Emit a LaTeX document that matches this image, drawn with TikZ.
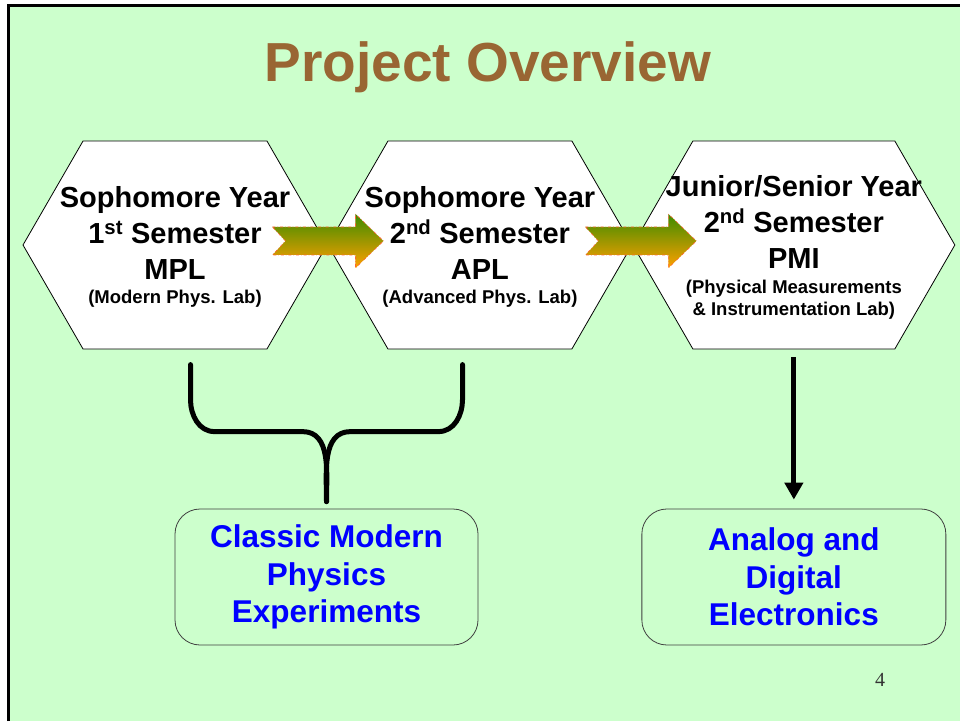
\documentclass[tikz,border=0pt]{standalone}
\usepackage{fontspec}
\setmainfont{Liberation Sans}
\newfontfamily\pagefont{Liberation Serif}
\usetikzlibrary{positioning,calc,shapes.symbols,arrows.meta}
\definecolor{slidegreen}{HTML}{CCFFCC}
\definecolor{titlebrown}{HTML}{996633}
\definecolor{arrowgreen}{RGB}{60,140,0}
\definecolor{arroworange}{RGB}{255,160,0}
\definecolor{arrowedge}{RGB}{255,100,50}
\definecolor{boxedge}{HTML}{404040}
\newcommand{\smalltxt}{\fontsize{18.5}{22}\selectfont}
\tikzset{>=latex,
  hexnode/.style={draw, line width=0.8pt, fill=white, shape=signal, signal to=east and west,
    signal pointer angle=120, minimum width=304pt, minimum height=208pt, inner sep=0pt},
  hextext/.style={align=center, font=\bfseries\fontsize{29}{36}\selectfont},
  goalbox/.style={draw=boxedge, line width=0.8pt, rounded corners=25pt, minimum width=303pt,
    minimum height=136pt, align=center, text=blue, font=\bfseries\fontsize{31.5}{37.5}\selectfont},
  fatarrow/.pic={
    \path[draw=arrowedge, line width=0.6pt, dash dot, top color=arrowgreen, bottom color=arroworange]
      (-55,14) -- (28,14) -- (28,27) -- (56,0) -- (28,-27) -- (28,-14) -- (-55,-14) -- (-42,0) -- cycle;
  }
}

\begin{document}
\begin{tikzpicture}[x=1pt, y=1pt]
  \useasboundingbox (0,0) rectangle (960,721);
  % slide background and frame
  \fill[white] (0,0) rectangle (960,721);
  \fill[slidegreen] (8,0) rectangle (960,715);
  \draw[line width=3pt] (8,0) -- (8,715) -- (960,715);
  \node[text=titlebrown, font=\bfseries\fontsize{55}{60}\selectfont, anchor=base] (title) at (488,639) {Project Overview};
  % the three labs
  \node[hexnode] (mplhex) at (175,476) {};
  \node[hexnode, right=0pt of mplhex] (aplhex) {};
  \node[hexnode, minimum width=322pt, right=0pt of aplhex] (pmihex) {};
  \node[hextext] (mpltext) at ($(mplhex.center)+(0,-2)$) {Sophomore Year\\1\textsuperscript{st} Semester\\MPL\\[-12pt]{\smalltxt (Modern Phys. Lab)}};
  \node[hextext] (apltext) at ($(aplhex.center)+(0,-2)$) {Sophomore Year\\2\textsuperscript{nd} Semester\\APL\\[-12pt]{\smalltxt (Advanced Phys. Lab)}};
  \node[hextext] (pmitext) at ($(pmihex.center)+(0,-2)$) {Junior/Senior Year\\2\textsuperscript{nd} Semester\\PMI\\[-11pt]{\smalltxt (Physical Measurements}\\[-14pt]{\smalltxt \& Instrumentation Lab)}};
  \pic at ($(mplhex.east)+(0,4)$) {fatarrow};
  \pic at ($(aplhex.east)+(8,4)$) {fatarrow};
  % outcomes
  \node[goalbox] (cmpbox) at (326.5,144) {Classic Modern\\Physics\\Experiments};
  \node[goalbox, minimum width=304pt] (aebox) at (pmihex.south |- cmpbox.center) {Analog and\\Digital\\Electronics};
  % brace from MPL and APL
  \coordinate (btip) at ($(cmpbox.north)+(0,7)$);
  \coordinate (bleft) at ($(btip)+(-136,137)$);
  \coordinate (bright) at ($(btip)+(136,137)$);
  \draw[line width=5pt, line cap=round, line join=round]
    (bleft) -- ++(0,-35) to[out=-90,in=180] ++(24,-32) -- ++(88,0) to[out=0,in=90] (btip);
  \draw[line width=5pt, line cap=round, line join=round]
    (bright) -- ++(0,-35) to[out=-90,in=0] ++(-24,-32) -- ++(-88,0) to[out=180,in=90] (btip);
  \draw[line width=5pt, -{Triangle[length=17pt,width=18pt]}, shorten <=8pt, shorten >=9pt] (pmihex.south) -- (aebox.north);
  \node[font=\pagefont\fontsize{20}{24}\selectfont, text=black!80, anchor=base] (pagenum) at (880,35) {4};
\end{tikzpicture}
\end{document}
